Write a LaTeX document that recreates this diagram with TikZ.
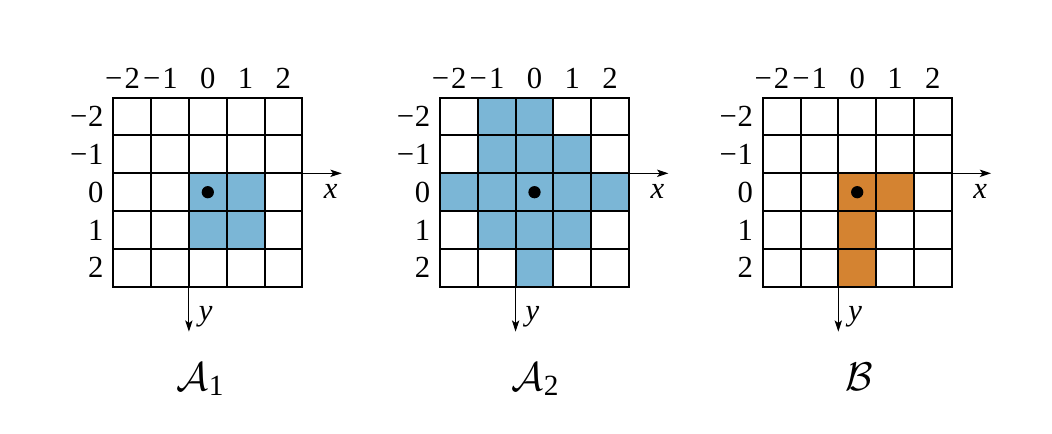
\RequirePackage{fix-cm}
\documentclass[tikz,border=0pt]{standalone}
\usepackage{fontspec}
\setmainfont{Liberation Serif}
\usetikzlibrary{arrows.meta}
\definecolor{cellblue}{RGB}{123,182,214}
\definecolor{cellorange}{RGB}{212,131,49}
\tikzset{
  gridline/.style={line width=1.5pt, black, line cap=rect},
  axisline/.style={line width=0.8pt, black, -{Stealth[length=8.5pt,width=5.5pt,inset=2pt]}},
  lab/.style={font=\fontsize{23}{27}\selectfont, inner sep=0pt},
  ttl/.style={font=\fontsize{30}{36}\selectfont, inner sep=0pt, anchor=base},
  origin dot/.style={fill=black, draw=none},
}
\newcommand\cs{37.8}
\newcommand\subdigit[1]{\kern0.5pt\raisebox{-4pt}{\fontsize{22}{26}\selectfont #1}}
\newcommand\mypanel[6]{%
  \begin{scope}[shift={(#1,97.7)}]
    \foreach \i/\j in {#3} \fill[#2] ({(\i+2)*\cs},{(\j+2)*\cs}) rectangle ++(\cs,\cs);
    \foreach \k in {0,...,5} {
      \draw[gridline] ({\k*\cs},0) -- ({\k*\cs},{5*\cs});
      \draw[gridline] (0,{\k*\cs}) -- ({5*\cs},{\k*\cs});
    }
    \coordinate (#6o) at ({2*\cs},{2*\cs});
    \coordinate (#6xe) at (228.4,{2*\cs});
    \coordinate (#6ye) at ({2*\cs},234);
    \draw[axisline] (0,{2*\cs}) -- (#6xe);
    \draw[axisline] (#6o) -- (#6ye);
    \node[lab] (#6xl) at (217.4,94) {\itshape x};
    \node[lab] (#6yl) at (92.5,219) {\itshape y};
    \fill[origin dot] ({2.5*\cs},{2.5*\cs}) circle[radius=4.6pt];
    \foreach \n in {-2,...,2} {
      \pgfmathtruncatemacro\a{abs(\n)}
      \node[lab, anchor=base] (#6c\a\n) at ({(\n+2.5)*\cs},-9.5)
        {\ifnum\n<0 \llap{−\kern1.5pt}\fi\a};
      \node[lab, anchor=east] (#6r\a\n) at (-9.5,{(\n+2.5)*\cs})
        {\ifnum\n<0 −\kern0.5pt\fi\a};
    }
  \end{scope}
  \node[ttl] (#6t) at (#5,390) {#4};
}
\begin{document}
\begin{tikzpicture}[x=0.75pt,y=-0.75pt]
  \useasboundingbox (0,0) rectangle (1052,434);
  \mypanel{113.3}{cellblue}{0/0,1/0,0/1,1/1}{$\mathcal{A}$\subdigit{1}}{200}{p}
  \mypanel{440}{cellblue}{-1/-2,0/-2,-1/-1,0/-1,1/-1,-2/0,-1/0,0/0,1/0,2/0,-1/1,0/1,1/1,0/2}{$\mathcal{A}$\subdigit{2}}{535}{q}
  \mypanel{762.7}{cellorange}{0/0,1/0,0/1,0/2}{$\mathcal{B}$}{859}{r}
\end{tikzpicture}
\end{document}
